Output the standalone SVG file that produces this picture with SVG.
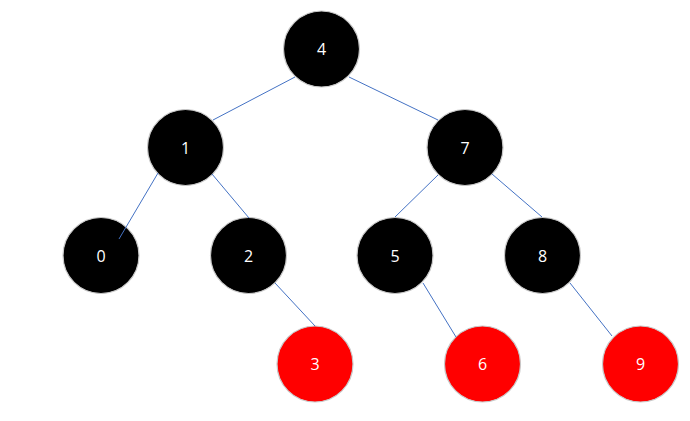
<svg xmlns="http://www.w3.org/2000/svg" width="690" height="421" viewBox="0 0 690 421">
<style>
.n{stroke:#c8c8c8;stroke-width:1.2}
.b{fill:#000}
.r{fill:#ff0000}
.t{fill:#fff;font-family:"Open Sans","Liberation Sans",sans-serif;font-size:16px;text-anchor:middle;dominant-baseline:central}
.e{stroke:#4472c4;stroke-width:1;fill:none}
</style>
<rect width="690" height="421" fill="#fff"/>
<g id="nodes">
<g id="n4"><circle class="n b" cx="321.5" cy="49" r="38"/><text class="t" x="321.5" y="49">4</text></g>
<g id="n1"><circle class="n b" cx="185.5" cy="147.5" r="38"/><text class="t" x="185.5" y="147.5">1</text></g>
<g id="n7"><circle class="n b" cx="465" cy="147.5" r="38"/><text class="t" x="465" y="147.5">7</text></g>
<g id="n0"><circle class="n b" cx="101" cy="255.5" r="38"/><text class="t" x="101" y="255.5">0</text></g>
<g id="n2"><circle class="n b" cx="248.5" cy="255.5" r="38"/><text class="t" x="248.5" y="255.5">2</text></g>
<g id="n5"><circle class="n b" cx="395" cy="255.5" r="38"/><text class="t" x="395" y="255.5">5</text></g>
<g id="n8"><circle class="n b" cx="542.5" cy="255.5" r="38"/><text class="t" x="542.5" y="255.5">8</text></g>
<g id="n3"><circle class="n r" cx="315" cy="364" r="38"/><text class="t" x="315" y="364">3</text></g>
<g id="n6"><circle class="n r" cx="482.5" cy="364" r="38"/><text class="t" x="482.5" y="364">6</text></g>
<g id="n9"><circle class="n r" cx="640.5" cy="364" r="38"/><text class="t" x="640.5" y="364">9</text></g>
</g>
<g id="edges">
<line class="e" x1="295" y1="77" x2="213" y2="120"/>
<line class="e" x1="349" y1="77" x2="438" y2="120"/>
<line class="e" x1="158" y1="173" x2="119" y2="239"/>
<line class="e" x1="212" y1="174" x2="249" y2="218"/>
<line class="e" x1="438" y1="175" x2="395" y2="217"/>
<line class="e" x1="492" y1="174" x2="542" y2="217"/>
<line class="e" x1="275" y1="283" x2="315" y2="326"/>
<line class="e" x1="423" y1="283" x2="456" y2="337"/>
<line class="e" x1="570" y1="283" x2="612" y2="336"/>
</g>
</svg>
